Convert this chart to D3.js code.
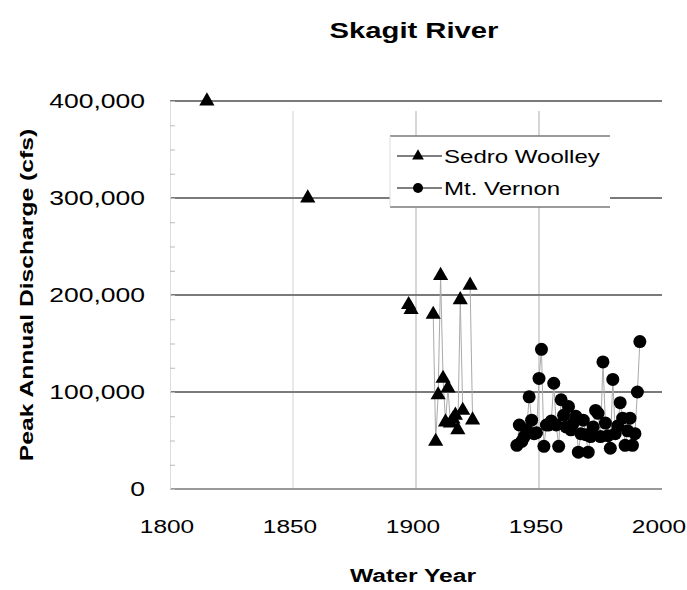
<!DOCTYPE html>
<html>
<head>
<meta charset="utf-8">
<script src="https://cdnjs.cloudflare.com/ajax/libs/d3/7.8.5/d3.min.js"></script>
<style>
  body { margin: 0; background: #fff; }
  text { font-family: "Liberation Sans", Arial, sans-serif; fill: #000; }
</style>
</head>
<body>
<svg id="chart"></svg>
<script>
// Sedro Woolley (historic + gaged), water years and peaks in cfs
var swYears = [1815, 1856, 1897, 1898, 1907, 1908, 1909, 1910, 1911, 1912, 1913, 1914, 1915, 1916, 1917, 1918, 1919, 1922, 1923];
var swPeaks = [400000, 300000, 190000, 185000, 180000, 49000, 97000, 220000, 114000, 69000, 104000, 68000, 72000, 76000, 61000, 195000, 81000, 210000, 71000];

// Mt. Vernon, 1941-1991
var mvYears = [1941, 1942, 1943, 1944, 1945, 1946, 1947, 1948, 1949, 1950,
               1951, 1952, 1953, 1954, 1955, 1956, 1957, 1958, 1959, 1960,
               1961, 1962, 1963, 1964, 1965, 1966, 1967, 1968, 1969, 1970,
               1971, 1972, 1973, 1974, 1975, 1976, 1977, 1978, 1979, 1980,
               1981, 1982, 1983, 1984, 1985, 1986, 1987, 1988, 1989, 1990, 1991];
var mvPeaks = [45000, 66000, 49000, 54000, 61000, 95000, 71000, 57000, 58000, 114000,
               144000, 44000, 66000, 66000, 70000, 109000, 66000, 44000, 92000, 76000,
               64000, 85000, 61000, 68000, 75000, 38000, 57000, 71000, 56000, 38000,
               54000, 64000, 81000, 78000, 54000, 131000, 68000, 55000, 42000, 113000,
               57000, 65000, 89000, 73000, 45000, 60000, 73000, 45000, 57000, 100000, 152000];

var xTicks = [1800, 1850, 1900, 1950, 2000];
var yTicks = [0, 100000, 200000, 300000, 400000];
var seriesNames = ["Sedro Woolley", "Mt. Vernon"];

var w = 687, h = 590;

var svg = d3.select("#chart").attr("width", w).attr("height", h);

var x = d3.scaleLinear().domain([1800, 2000]).range([170, 662]);
var y = d3.scaleLinear().domain([0, 400000]).range([489, 101]);

// the scanned font is wide, so text gets a horizontal stretch
function txt(g, s, px, py, size, weight, anchor, rot, sx) {
  return g.append("text")
    .attr("transform", "translate(" + px + "," + py + ")" + (rot ? " rotate(" + rot + ")" : "") + " scale(" + (sx || 1.3) + ",1)")
    .attr("text-anchor", anchor)
    .attr("font-size", size)
    .attr("font-weight", weight)
    .text(s);
}

function toPts(years, peaks) {
  return years.map(function(d, i) { return { year: d, v: peaks[i] }; });
}
var sw = toPts(swYears, swPeaks);
var mv = toPts(mvYears, mvPeaks);

// vertical grid (faint)
svg.append("g").selectAll("line")
   .data(xTicks.slice(1, -1))
   .enter().append("line")
   .attr("x1", function(d) { return x(d); })
   .attr("x2", function(d) { return x(d); })
   .attr("y1", y(400000) + 10)
   .attr("y2", y(0))
   .attr("stroke", function(d) { return d == 1850 ? "#e2e2e2" : "#c8c8c8"; })
   .attr("stroke-width", 1.5);

// horizontal grid
svg.append("g").selectAll("line")
   .data(yTicks)
   .enter().append("line")
   .attr("x1", x(1800))
   .attr("x2", x(2000))
   .attr("y1", function(d) { return y(d); })
   .attr("y2", function(d) { return y(d); })
   .attr("stroke", function(d) { return d == 0 ? "#999" : "#7a7a7a"; })
   .attr("stroke-width", 1.8);

// left axis with small minor ticks
var yAxis = d3.axisRight(y).tickValues(d3.range(0, 400001, 25000)).tickSize(5).tickFormat("");
var ya = svg.append("g").attr("transform", "translate(" + x(1800) + ",0)").call(yAxis);
ya.selectAll("line").attr("stroke", "#bbb");
ya.select(".domain").attr("stroke", "#ddd");

// tick labels
yTicks.forEach(function(d) {
  txt(svg, d3.format(",")(d), 145, y(d) + 7, 19.5, "normal", "end", 0, 1.36);
});
xTicks.forEach(function(d) {
  txt(svg, d, x(d) - 3, 533, 18.5, "normal", "middle", 0, 1.32);
});

// connecting lines only between consecutive years
function segments(pts) {
  var segs = [], cur = [pts[0]];
  for (var i = 1; i < pts.length; i++) {
    if (pts[i].year - pts[i - 1].year == 1) cur.push(pts[i]);
    else { segs.push(cur); cur = [pts[i]]; }
  }
  segs.push(cur);
  return segs.filter(function(s) { return s.length > 1; });
}
var line = d3.line().x(function(d) { return x(d.year); }).y(function(d) { return y(d.v); });

svg.append("g").selectAll("path")
   .data(segments(sw).concat(segments(mv)))
   .enter().append("path")
   .attr("d", line)
   .attr("fill", "none")
   .attr("stroke", "#aaa")
   .attr("stroke-width", 1);

var tri = d3.symbol().type(d3.symbolTriangle).size(100);

svg.append("g").selectAll("circle")
   .data(mv)
   .enter().append("circle")
   .attr("cx", function(d) { return x(d.year); })
   .attr("cy", function(d) { return y(d.v); })
   .attr("r", 6.5)
   .attr("fill", "#000");

svg.append("g").selectAll("path")
   .data(sw)
   .enter().append("path")
   .attr("d", tri)
   .attr("transform", function(d) { return "translate(" + x(d.year) + "," + y(d.v) + ")"; })
   .attr("fill", "#000");

// legend
var lg = svg.append("g");
lg.append("rect").attr("x", 390).attr("y", 136).attr("width", 220).attr("height", 71).attr("fill", "#fff");
lg.append("line").attr("x1", 390).attr("x2", 610).attr("y1", 136).attr("y2", 136).attr("stroke", "#7a7a7a").attr("stroke-width", 1.6);
lg.append("line").attr("x1", 390).attr("x2", 610).attr("y1", 207).attr("y2", 207).attr("stroke", "#7a7a7a").attr("stroke-width", 1.6);
lg.append("line").attr("x1", 390).attr("x2", 390).attr("y1", 136).attr("y2", 207).attr("stroke", "#ddd");

var legRows = lg.selectAll("g.row")
   .data(seriesNames)
   .enter().append("g")
   .attr("class", "row")
   .attr("transform", function(d, i) { return "translate(0," + (156 + i * 32) + ")"; });
legRows.append("line").attr("x1", 397).attr("x2", 442).attr("stroke", "#555").attr("stroke-width", 1.4);
legRows.each(function(d, i) {
  var g = d3.select(this);
  if (i == 0) g.append("path").attr("d", d3.symbol().type(d3.symbolTriangle).size(60)).attr("transform", "translate(418,0)");
  else g.append("circle").attr("cx", 418).attr("r", 5);
  txt(g, d, 444, 7, 18.5, "normal", "start");
});

// titles
txt(svg, "Skagit River", 414, 38, 22.5, "bold", "middle");
txt(svg, "Water Year", 413, 582, 19, "bold", "middle");
txt(svg, "Peak Annual Discharge (cfs)", 33, 295, 19, "bold", "middle", -90);
</script>
</body>
</html>
